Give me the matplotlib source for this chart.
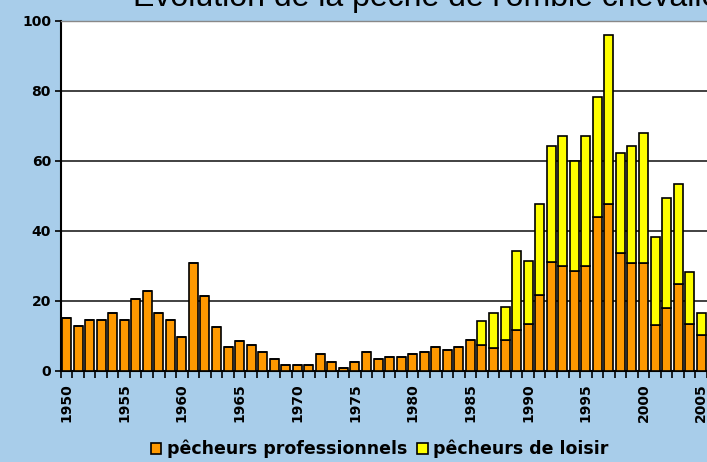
import matplotlib
matplotlib.use("Agg")
import matplotlib.pyplot as plt
from matplotlib.patches import Patch

years = list(range(1950, 2006))
professionnels = [15.2, 13.0, 14.5, 14.5, 16.7, 14.5, 20.7, 22.9, 16.7, 14.5,
                  9.6, 30.8, 21.5, 12.5, 6.9, 8.5, 7.5, 5.5, 3.3, 1.7,
                  1.7, 1.7, 4.9, 2.7, 1.0, 2.7, 5.3, 3.3, 4.1, 4.0,
                  4.8, 5.5, 6.8, 6.0, 6.8, 8.9, 7.4, 6.7, 9.0, 11.7,
                  13.3, 21.6, 31.2, 30.0, 28.6, 30.0, 44.1, 47.7, 33.6, 30.8,
                  30.8, 13.1, 17.9, 25.0, 13.3, 10.3]
loisir = [0, 0, 0, 0, 0, 0, 0, 0, 0, 0,
          0, 0, 0, 0, 0, 0, 0, 0, 0, 0,
          0, 0, 0, 0, 0, 0, 0, 0, 0, 0,
          0, 0, 0, 0, 0, 0, 6.9, 10.0, 9.2, 22.7,
          18.2, 26.0, 33.1, 37.1, 31.4, 37.1, 34.3, 48.3, 28.6, 33.5,
          37.1, 25.3, 31.6, 28.3, 15.1, 6.4]
label_years = [1950, 1955, 1960, 1965, 1970, 1975, 1980, 1985, 1990, 1995, 2000, 2005]
y_ticks = [0, 20, 40, 60, 80, 100]
title = "Evolution de la pêche de l'omble chevalier"
series_names = ["pêcheurs professionnels", "pêcheurs de loisir"]

orange = "#FF9900"
yellow = "#FFFF00"
bg = "#A8CDEA"

fig = plt.figure(figsize=(7.07, 4.62), dpi=100)
fig.patch.set_facecolor(bg)

W, H = 707, 462
left_px, right_px, top_px, bottom_px = 60.7, 707.0, 21.0, 371.0
ax = fig.add_axes([left_px / W, (H - bottom_px) / H,
                   (right_px - left_px) / W, (bottom_px - top_px) / H])
ax.set_facecolor("white")

ax.bar(years, professionnels, width=0.78, color=orange, edgecolor="black",
       linewidth=1.2, zorder=3)
ax.bar(years, loisir, width=0.78, bottom=professionnels, color=yellow,
       edgecolor="black", linewidth=1.2, zorder=3)

ax.set_xlim(1949.5, 1949.5 + (right_px - left_px) / 11.6)
ax.set_ylim(0, 100)

ax.set_yticks(y_ticks)
ax.set_yticklabels([str(v) for v in y_ticks], fontsize=10, fontweight="bold",
                   family="DejaVu Sans")
ax.yaxis.grid(True, color="#333333", linewidth=1.3, zorder=1)
ax.set_axisbelow(True)

ax.set_xticks(label_years)
ax.set_xticklabels([str(y) for y in label_years], rotation=90, fontsize=10,
                   fontweight="bold", family="DejaVu Sans")
ax.set_xticks([y - 0.5 for y in years] + [years[-1] + 0.5], minor=True)
ax.tick_params(axis="x", which="major", length=0, pad=9)
ax.tick_params(axis="x", which="minor", length=5, width=1.2, direction="out")
ax.tick_params(axis="y", length=4, width=1.2, direction="out", pad=3)

ax.spines["right"].set_visible(False)
ax.spines["top"].set_color("#888888")
ax.spines["top"].set_linewidth(1.0)
ax.spines["left"].set_linewidth(1.5)
ax.spines["bottom"].set_linewidth(1.5)

# Title: only its lower part is visible in the reference (cut at the top edge)
fig.text(133 / W, (H - 6) / H, title, fontsize=23, family="Liberation Sans",
         ha="left", va="baseline", color="black")

handles = [Patch(facecolor=orange, edgecolor="black", linewidth=1.2),
           Patch(facecolor=yellow, edgecolor="black", linewidth=1.2)]
leg = fig.legend(handles, series_names, loc="center", ncol=2,
                 bbox_to_anchor=(0.537, 0.028), frameon=False,
                 prop={"size": 12.5, "weight": "bold", "family": "DejaVu Sans"},
                 handlelength=0.6, handleheight=0.6, handletextpad=0.3,
                 columnspacing=0.6, borderpad=0)

fig.savefig("out.png", dpi=100, facecolor=bg)
